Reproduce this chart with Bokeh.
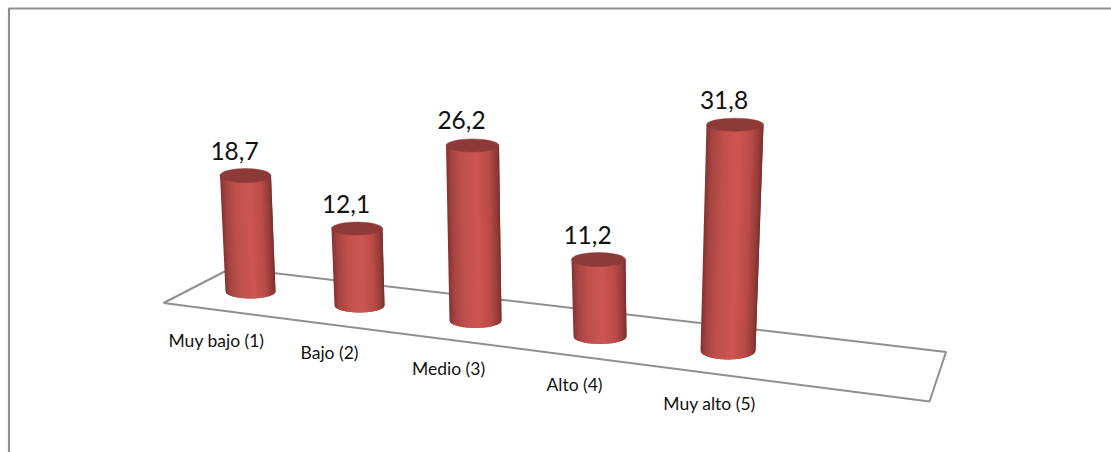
import numpy as np
from bokeh.core.properties import value
from bokeh.embed import file_html
from bokeh.models import ColumnDataSource, Range1d
from bokeh.plotting import figure
from bokeh.resources import INLINE

# Chart values
categories = ["Muy bajo (1)", "Bajo (2)", "Medio (3)", "Alto (4)", "Muy alto (5)"]
percentages = [18.7, 12.1, 26.2, 11.2, 31.8]

# Perspective layout of the 3D floor, per category
base_x = [250, 359, 475, 599.5, 727.5]
base_y = [291, 305, 320, 336, 350]
unit_height = [6.2, 6.36, 6.68, 6.87, 7.1]
lean = [-5, -2.5, -3, -1.5, 7]
base_rx = [25, 25, 26, 26.5, 27.5]
top_rx = [25.5, 25.5, 26.5, 27, 28.5]
base_ry = [7, 7, 7.5, 7.5, 9]
top_ry = [7, 6.5, 6.5, 7, 6.5]
cat_label_x = [216, 329, 448, 574, 709]
cat_label_y = [340, 352, 368, 384, 403]

# Floor parallelogram outline
floor_x = [163, 231, 945.5, 929, 163]
floor_y = [302.5, 267.5, 351.5, 401, 302.5]

GREY = "#8f8f8f"
CAP = "#8e3a39"
shade_pos = [-1.0, -0.8, -0.4, 0.15, 0.6, 0.9, 1.0]
shade_rgb = np.array([
    [130, 52, 50], [165, 68, 65], [192, 80, 76], [205, 86, 82],
    [185, 75, 72], [145, 58, 55], [120, 46, 44],
])


def shade(u):
    return "#%02x%02x%02x" % tuple(
        int(round(np.interp(u, shade_pos, shade_rgb[:, c]))) for c in range(3)
    )


p = figure(
    width=1111, height=452,
    x_range=Range1d(0, 1111), y_range=Range1d(452, 0),
    output_backend="svg", toolbar_location=None,
    min_border=0, outline_line_color=None, background_fill_color="white",
)
p.axis.visible = False
p.grid.visible = False

# Chart area border: only the top and left edges are inside the page
p.line([8.5, 8.5, 1111], [452, 8, 8], line_color=GREY, line_width=2.2)

# Floor of the 3D plot
p.line(floor_x, floor_y, line_color=GREY, line_width=2)

# Cylinders: painted left to right, each strip running under the next one so
# that no seams appear between the shades
edges = np.linspace(-1, 1, 61)
xs, ys, colors = [], [], []
cap_x, cap_y, cap_w, cap_h = [], [], [], []
for i, v in enumerate(percentages):
    tx = base_x[i] + lean[i]
    ty = base_y[i] - v * unit_height[i]
    for j in range(len(edges) - 1):
        under = edges[j:j + 3]
        bottom_x = base_x[i] + under * base_rx[i]
        bottom_y = base_y[i] + np.sqrt(np.maximum(0, 1 - under * under)) * base_ry[i]
        xs.append([tx + under[0] * top_rx[i], tx + under[-1] * top_rx[i], *bottom_x[::-1]])
        ys.append([ty, ty, *bottom_y[::-1]])
        colors.append(shade((edges[j] + edges[j + 1]) / 2))
    cap_x.append(tx)
    cap_y.append(ty)
    cap_w.append(2 * top_rx[i])
    cap_h.append(2 * top_ry[i])

p.patches(xs, ys, fill_color=colors, line_color=None)
p.ellipse(cap_x, cap_y, width=cap_w, height=cap_h, fill_color=CAP, line_color=CAP, line_width=0.5)

# Value labels above the cylinders
labels = ColumnDataSource(dict(
    x=[cx - 11 for cx in cap_x],
    y=[cy - 25 for cy in cap_y],
    text=[f"{v:.1f}".replace(".", ",") for v in percentages],
))
p.text("x", "y", "text", source=labels, text_align="center", text_baseline="middle",
       text_font=value("Lato"), text_font_size="24.5px", text_color="#111111")

# Category labels in front of the floor
p.text(cat_label_x, cat_label_y, categories, text_align="center", text_baseline="middle",
       text_font=value("Lato"), text_font_size="17.5px", text_color="#111111")

open("out.html", "w").write(file_html(p, INLINE))
